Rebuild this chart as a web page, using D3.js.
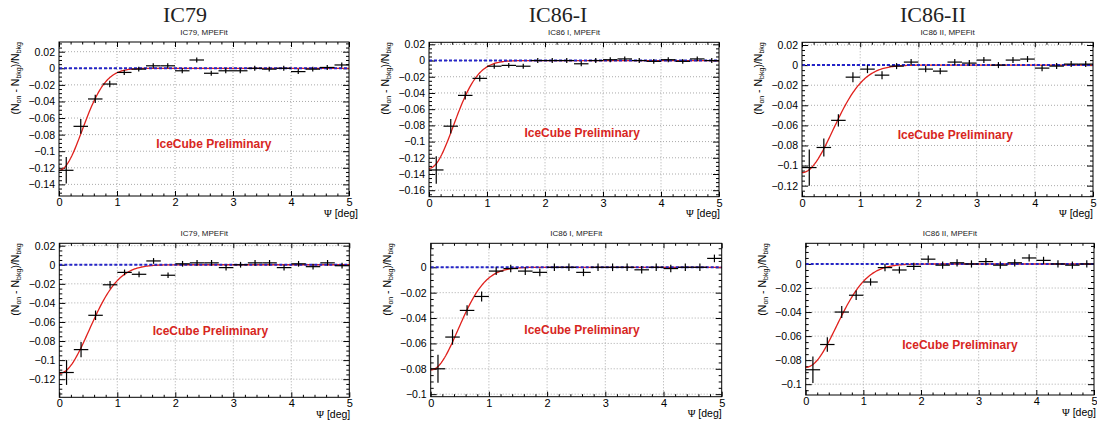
<!DOCTYPE html>
<html>
<head>
<meta charset="utf-8">
<title>IceCube moon shadow</title>
<script src="https://d3js.org/d3.v7.min.js"></script>
<style>
  body { margin: 0; background: #fff; }
  text { font-family: "Liberation Sans", Arial, sans-serif; }
</style>
</head>
<body>
<div id="chart"></div>
<script>
// bin centres in Psi [deg], 20 bins of 0.25
var psi = [0.125,0.375,0.625,0.875,1.125,1.375,1.625,1.875,2.125,2.375,
           2.625,2.875,3.125,3.375,3.625,3.875,4.125,4.375,4.625,4.875];
var binHalf = 0.125;
var xTicks = [0,1,2,3,4,5];

// IC79 (top)
var ic79a = [-0.123,-0.070,-0.037,-0.019,-0.005,-0.001,0.003,0.003,-0.003,0.010,
             -0.006,-0.003,-0.003,0.000,-0.001,0.000,-0.004,-0.001,0.001,0.004];
var ic79aErr = [0.016,0.009,0.005,0.004,0.003,0.003,0.003,0.003,0.003,0.003,
                0.003,0.003,0.003,0.003,0.003,0.003,0.003,0.003,0.003,0.003];
// IC86-I (top)
var ic86Ia = [-0.135,-0.081,-0.043,-0.022,-0.007,-0.006,-0.007,0.000,0.000,0.000,
              -0.004,0.000,0.001,0.002,0.000,-0.001,0.001,-0.001,0.002,0.000];
var ic86IaErr = [0.017,0.009,0.005,0.004,0.003,0.003,0.003,0.003,0.003,0.003,
                 0.003,0.003,0.003,0.003,0.003,0.003,0.003,0.003,0.003,0.003];
// IC86-II (top)
var ic86IIa = [-0.102,-0.082,-0.055,-0.012,-0.004,-0.010,-0.001,0.003,-0.004,-0.006,
               0.003,0.002,0.005,0.000,0.005,0.006,-0.003,-0.001,0.001,0.001];
var ic86IIaErr = [0.018,0.009,0.006,0.005,0.004,0.004,0.003,0.003,0.003,0.003,
                  0.003,0.003,0.003,0.003,0.003,0.003,0.003,0.003,0.003,0.003];
// IC79 (bottom)
var ic79b = [-0.113,-0.089,-0.053,-0.021,-0.008,-0.010,0.004,-0.011,0.001,0.002,
             0.002,-0.003,0.000,0.002,0.002,-0.003,0.001,-0.002,0.002,-0.001];
var ic79bErr = [0.013,0.008,0.005,0.004,0.003,0.003,0.003,0.003,0.003,0.003,
                0.003,0.003,0.003,0.003,0.003,0.003,0.003,0.003,0.003,0.003];
// IC86-I (bottom)
var ic86Ib = [-0.080,-0.055,-0.034,-0.023,-0.003,-0.001,-0.003,-0.004,0.000,0.000,
              -0.004,0.000,0.000,0.000,-0.002,0.000,-0.001,0.000,0.000,0.007];
var ic86IbErr = [0.011,0.006,0.004,0.004,0.003,0.003,0.003,0.003,0.003,0.003,
                 0.003,0.003,0.003,0.003,0.003,0.003,0.003,0.003,0.003,0.003];
// IC86-II (bottom)
var ic86IIb = [-0.088,-0.067,-0.040,-0.026,-0.015,-0.003,-0.005,-0.002,0.004,-0.001,
               0.001,0.000,0.002,-0.001,0.001,0.005,0.003,0.000,-0.001,0.000];
var ic86IIbErr = [0.011,0.006,0.005,0.004,0.003,0.003,0.003,0.003,0.003,0.003,
                  0.003,0.003,0.003,0.003,0.003,0.003,0.003,0.003,0.003,0.003];

// gaussian fit parameters (amplitude, sigma)
var fitAmp   = [-0.123,-0.133,-0.107,-0.114,-0.081,-0.086];
var fitSigma = [0.40,0.42,0.53,0.51,0.47,0.53];

var yTicksA = [0.02,0,-0.02,-0.04,-0.06,-0.08,-0.1,-0.12,-0.14];
var yTicksB = [0.02,0,-0.02,-0.04,-0.06,-0.08,-0.1,-0.12,-0.14,-0.16];
var yTicksC = [0.02,0,-0.02,-0.04,-0.06,-0.08,-0.1,-0.12];
var yTicksD = [0,-0.02,-0.04,-0.06,-0.08,-0.1];

var panels = [
  {vals: ic79a, errs: ic79aErr, sub: "IC79, MPEFit", yt: yTicksA, yd: [-0.154,0.0317],
   l: 59, r: 349, t: 42, b: 196, lab: [0.534,0.688], xlOff: 9},
  {vals: ic86Ia, errs: ic86IaErr, sub: "IC86 I, MPEFit", yt: yTicksB, yd: [-0.168,0.0225],
   l: 429, r: 719, t: 42.3, b: 196.7, lab: [0.528,0.613], xlOff: 1},
  {vals: ic86IIa, errs: ic86IIaErr, sub: "IC86 II, MPEFit", yt: yTicksC, yd: [-0.131,0.0227],
   l: 802, r: 1093, t: 42.3, b: 196.7, lab: [0.527,0.626], xlOff: 0},
  {vals: ic79b, errs: ic79bErr, sub: "IC79, MPEFit", yt: yTicksC, yd: [-0.139,0.0225],
   l: 59.3, r: 349.3, t: 243.3, b: 397.3, lab: [0.521,0.595], xlOff: 1},
  {vals: ic86Ib, errs: ic86IbErr, sub: "IC86 I, MPEFit", yt: yTicksD, yd: [-0.102,0.0189],
   l: 430.7, r: 721.7, t: 243.3, b: 396.7, lab: [0.52,0.591], xlOff: 0},
  {vals: ic86IIb, errs: ic86IIbErr, sub: "IC86 II, MPEFit", yt: yTicksD, yd: [-0.109,0.0172],
   l: 805.7, r: 1094, t: 243.3, b: 395, lab: [0.535,0.697], xlOff: 2}
];

var bigTitles = [["IC79",185],["IC86-I",558],["IC86-II",933]];

var W = 1097, H = 426;
var svg = d3.select("#chart").append("svg").attr("width", W).attr("height", H);
svg.append("rect").attr("width", W).attr("height", H).attr("fill", "#fff");

bigTitles.forEach(function(d){
  svg.append("text").attr("x", d[1]).attr("y", 22).attr("text-anchor","middle")
    .style("font-family","'Liberation Serif', 'Times New Roman', serif")
    .style("font-size","22px").attr("fill","#222").text(d[0]);
});

function fmt(v){
  if (Math.abs(v) < 1e-9) return "0";
  return (v < 0 ? "\u2212" : "") + String(+Math.abs(v).toFixed(2));
}

panels.forEach(function(p, k){
  var x = d3.scaleLinear().domain([0,5]).range([p.l, p.r]);
  var y = d3.scaleLinear().domain(p.yd).range([p.b, p.t]);
  var g = svg.append("g");

  // grid
  g.selectAll(".gx").data(xTicks.slice(1,-1)).enter().append("line")
    .attr("x1", d => x(d)).attr("x2", d => x(d)).attr("y1", p.t).attr("y2", p.b)
    .attr("stroke","#aaa").attr("stroke-width",1).attr("stroke-dasharray","1,2");
  g.selectAll(".gy").data(p.yt).enter().append("line")
    .attr("x1", p.l).attr("x2", p.r).attr("y1", d => y(d)).attr("y2", d => y(d))
    .attr("stroke","#aaa").attr("stroke-width",1).attr("stroke-dasharray","1,2");

  // minor tick values
  var xMinor = d3.range(0, 5.0001, 0.2).filter(v => Math.abs(v - Math.round(v)) > 1e-6);
  var yMinor = d3.range(Math.ceil(p.yd[0]/0.005)*0.005, p.yd[1], 0.005)
    .filter(v => Math.abs(v/0.02 - Math.round(v/0.02)) > 1e-6);

  function axis(gen, tr, vals, size, labels, pad){
    var a = g.append("g").attr("transform", tr)
      .call(gen.tickValues(vals).tickSize(size).tickPadding(pad || 4)
        .tickFormat(labels ? fmt : ""));
    a.select(".domain").remove();
    a.selectAll("line").attr("stroke","#000").attr("stroke-width",1);
    a.selectAll("text").style("font-size","10.5px").style("font-family","'Liberation Sans', Arial, sans-serif").attr("fill","#000");
    return a;
  }
  axis(d3.axisLeft(y), "translate("+p.l+",0)", p.yt, -6, true);
  axis(d3.axisLeft(y), "translate("+p.l+",0)", yMinor, -3, false);
  axis(d3.axisRight(y), "translate("+p.r+",0)", p.yt, -6, false);
  axis(d3.axisRight(y), "translate("+p.r+",0)", yMinor, -3, false);
  axis(d3.axisBottom(x), "translate(0,"+p.b+")", xTicks, -5, true, 2)
    .selectAll("text").style("font-size","11px");
  axis(d3.axisBottom(x), "translate(0,"+p.b+")", xMinor, -2.5, false);
  axis(d3.axisTop(x), "translate(0,"+p.t+")", xTicks, -5, false);
  axis(d3.axisTop(x), "translate(0,"+p.t+")", xMinor, -2.5, false);

  // fit curve
  var xs = d3.range(0, 5.0001, 0.02);
  var A = fitAmp[k], s = fitSigma[k];
  g.append("path").datum(xs)
    .attr("d", d3.line().x(d => x(d)).y(d => y(A*Math.exp(-d*d/(2*s*s)))))
    .attr("fill","none").attr("stroke","#e0201c").attr("stroke-width",1.3);

  // zero reference
  g.append("line").attr("x1", p.l).attr("x2", p.r).attr("y1", y(0)).attr("y2", y(0))
    .attr("stroke","#2424c8").attr("stroke-width",2).attr("stroke-dasharray","3,2");

  // data crosses
  var pts = g.selectAll(".pt").data(psi.map((c,i) => [c, p.vals[i], p.errs[i]])).enter().append("g");
  pts.append("line").attr("x1", d => x(d[0]-binHalf)).attr("x2", d => x(d[0]+binHalf))
    .attr("y1", d => y(d[1])).attr("y2", d => y(d[1]))
    .attr("stroke","#000").attr("stroke-width",1.2);
  pts.append("line").attr("x1", d => x(d[0])).attr("x2", d => x(d[0]))
    .attr("y1", d => y(d[1]-d[2])).attr("y2", d => y(d[1]+d[2]))
    .attr("stroke","#000").attr("stroke-width",1.2);

  // frame
  g.append("rect").attr("x", p.l).attr("y", p.t).attr("width", p.r-p.l).attr("height", p.b-p.t)
    .attr("fill","none").attr("stroke","#000").attr("stroke-width",1);

  // sub title
  g.append("text").attr("x", (p.l+p.r)/2).attr("y", p.t-7).attr("text-anchor","middle")
    .style("font-size","8px").attr("fill","#222").text(p.sub);

  // preliminary label
  g.append("text").attr("x", p.l + p.lab[0]*(p.r-p.l)).attr("y", p.t + p.lab[1]*(p.b-p.t))
    .attr("text-anchor","middle").style("font-size","12px").style("font-weight","bold")
    .attr("fill","#d7261e").text("IceCube Preliminary");

  // x label
  var xl = g.append("text").attr("x", Math.min(p.r + p.xlOff, W - 1)).attr("y", p.b+20.5)
    .attr("text-anchor","end").style("font-size","10.5px").attr("fill","#000");
  xl.append("tspan").style("font-family","'Liberation Serif', serif").text("\u03A8");
  xl.append("tspan").text(" [deg]");

  // y label
  var yl = g.append("text")
    .attr("transform","translate("+(p.l-40)+","+p.t+") rotate(-90)")
    .attr("text-anchor","end").style("font-size","10.5px").attr("fill","#000");
  yl.append("tspan").text("(N");
  yl.append("tspan").attr("baseline-shift","-30%").style("font-size","7px").text("on");
  yl.append("tspan").text(" - N");
  yl.append("tspan").attr("baseline-shift","-30%").style("font-size","7px").text("bkg");
  yl.append("tspan").text(")/N");
  yl.append("tspan").attr("baseline-shift","-30%").style("font-size","7px").text("bkg");
});
</script>
</body>
</html>
